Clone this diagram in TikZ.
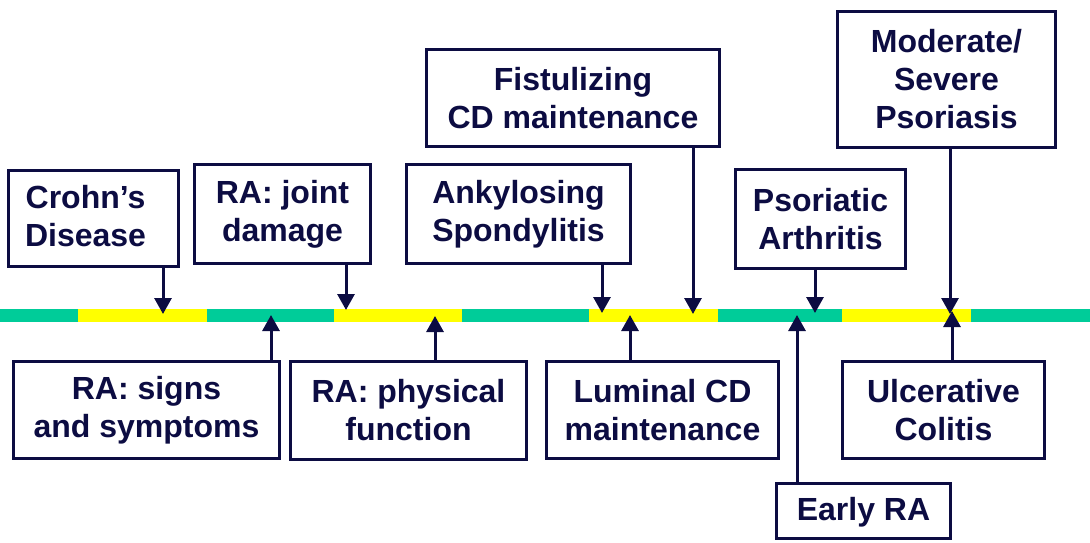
\documentclass[tikz,border=0pt]{standalone}
\usepackage{fontspec}
\setmainfont{Liberation Sans}
\usetikzlibrary{arrows.meta}
\definecolor{navy}{RGB}{12,12,66}
\definecolor{teal}{RGB}{0,204,153}
\definecolor{ylw}{RGB}{255,255,0}
\begin{document}
\begin{tikzpicture}[x=1pt,y=-1pt,
  label box/.style={draw=navy,line width=3pt,fill=white,text=navy,
    inner sep=0pt,align=center,
    font=\fontsize{32}{38}\selectfont\bfseries},
  pointer/.style={draw=navy,line width=3pt,
    -{Triangle[width=17pt,length=16pt]}}]
\useasboundingbox (0,0) rectangle (1090,542);

% timeline bar
\foreach \a/\b/\c in {0/78/teal,78/207/ylw,207/334/teal,334/462/ylw,
  462/589/teal,589/718/ylw,718/842/teal,842/971/ylw,971/1090/teal}
  \fill[\c] (\a,309) rectangle (\b,322);

% labels above the bar
\node[label box,align=none,minimum width=170pt,minimum height=96pt] (crohn) at (93.5,218.5)
  {\raisebox{-28pt}[0pt][0pt]{\begin{tabular}[b]{@{}c@{}}Crohn’s\\Disease\end{tabular}}\hspace*{16pt}};
\node[label box,minimum width=176pt,minimum height=99pt] (joint) at (282.5,214) {RA: joint\\damage};
\node[label box,minimum width=224pt,minimum height=99pt] (ankyl) at (518.5,214) {Ankylosing\\Spondylitis};
\node[label box,minimum width=293pt,minimum height=97pt] (fistul) at (573,98) {Fistulizing\\CD maintenance};
\node[label box,minimum width=170pt,minimum height=99pt] (psa) at (820.5,219) {Psoriatic\\Arthritis};
\node[label box,minimum width=218pt,minimum height=136pt] (pso) at (946.5,79.5) {Moderate/\\Severe\\Psoriasis};

% labels below the bar
\node[label box,minimum width=266pt,minimum height=97pt] (signs) at (146.5,410) {RA: signs\\and symptoms};
\node[label box,minimum width=236pt,minimum height=98pt] (phys) at (408.5,410.5) {RA: physical\\function};
\node[label box,minimum width=232pt,minimum height=97pt] (lum) at (662.5,410) {Luminal CD\\maintenance};
\node[label box,minimum width=202pt,minimum height=97pt] (uc) at (943.5,410) {Ulcerative\\Colitis};
\node[label box,align=none,minimum width=174pt,minimum height=55pt] (early) at (863.5,511)
  {\raisebox{-9pt}[0pt][0pt]{Early RA}};

% points on the bar
\coordinate (p-crohn) at (163,314);
\coordinate (p-signs) at (271,315);
\coordinate (p-joint) at (346,310);
\coordinate (p-phys) at (435,316);
\coordinate (p-ankyl) at (602,313);
\coordinate (p-lum) at (630,315);
\coordinate (p-fistul) at (693,314);
\coordinate (p-early) at (797,315);
\coordinate (p-psa) at (815,313);
\coordinate (p-pso) at (950,314);
\coordinate (p-uc) at (952,311);

% pointers
\foreach \n/\e in {crohn/south,joint/south,ankyl/south,fistul/south,psa/south,pso/south,
  signs/north,phys/north,lum/north,uc/north,early/north}
  \draw[pointer] (\n.\e -| p-\n) -- (p-\n);
\end{tikzpicture}
\end{document}
